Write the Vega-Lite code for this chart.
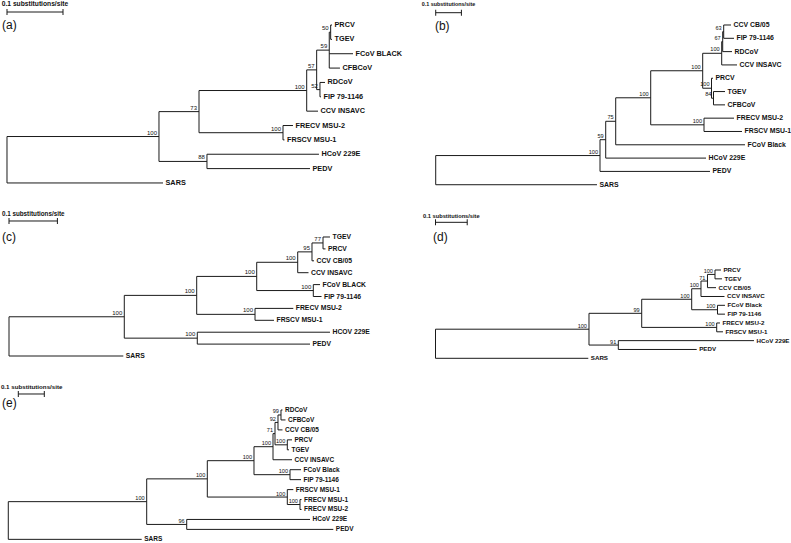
{
"$schema": "https://vega.github.io/schema/vega-lite/v6.json",
"padding": 0,
"background": "white",
"spacing": 0,
"bounds": "flush",
"columns": 2,
"config": {"view": {"stroke": null}, "concat": {"spacing": 0}},
"datasets": {
"a": [
{"name":"PRCV","x":0.5804,"px":0.578,"y":0},
{"name":"TGEV","x":0.5804,"px":0.578,"y":1},
{"name":"FCoV BLACK","x":0.6179,"px":0.5755,"y":2},
{"name":"CFBCoV","x":0.5946,"px":0.5755,"y":3},
{"name":"RDCoV","x":0.5679,"px":0.5589,"y":4},
{"name":"FIP 79-1146","x":0.5607,"px":0.5589,"y":5},
{"name":"CCV INSAVC","x":0.5554,"px":0.5352,"y":6},
{"name":"FRECV MSU-2","x":0.5107,"px":0.4929,"y":7},
{"name":"FRSCV MSU-1","x":0.4955,"px":0.4929,"y":8},
{"name":"HCoV 229E","x":0.5571,"px":0.3571,"y":9},
{"name":"PEDV","x":0.5411,"px":0.3571,"y":10},
{"name":"SARS","x":0.2786,"px":0,"y":11},
{"x":0.578,"px":0.5755,"y":0.5,"lo":0,"hi":1,"boot":"50"},
{"x":0.5755,"px":0.553,"y":1.75,"lo":0.5,"hi":3,"boot":"59"},
{"x":0.5589,"px":0.553,"y":4.5,"lo":4,"hi":5,"boot":"52"},
{"x":0.553,"px":0.5352,"y":3.125,"lo":1.75,"hi":4.5,"boot":"57"},
{"x":0.5352,"px":0.3429,"y":4.5625,"lo":3.125,"hi":6,"boot":"100"},
{"x":0.4929,"px":0.3429,"y":7.5,"lo":7,"hi":8,"boot":"100"},
{"x":0.3429,"px":0.2714,"y":6.0313,"lo":4.5625,"hi":7.5,"boot":"73"},
{"x":0.3571,"px":0.2714,"y":9.5,"lo":9,"hi":10,"boot":"88"},
{"x":0.2714,"px":0,"y":7.7656,"lo":6.0313,"hi":9.5,"boot":"100"},
{"x":0,"y":9.3828,"lo":7.7656,"hi":11}
],
"a_bar": [{"x0":0,"x1":0.1,"xm":0.05,"y":-0.905,"yc":-1.43,"cap":"0.1 substitutions/site","lx":-0.0089,"ly":0,"tag":"(a)"}],
"b": [
{"name":"CCV CB/05","x":1.149,"px":1.1206,"y":0},
{"name":"FIP 79-1146","x":1.1607,"px":1.1206,"y":1},
{"name":"RDCoV","x":1.1529,"px":1.1167,"y":2},
{"name":"CCV INSAVC","x":1.1724,"px":1.1128,"y":3},
{"name":"PRCV","x":1.079,"px":1.0732,"y":4},
{"name":"TGEV","x":1.1257,"px":1.0809,"y":5},
{"name":"CFBCoV","x":1.1257,"px":1.0809,"y":6},
{"name":"FRECV MSU-2","x":1.1607,"px":1.044,"y":7},
{"name":"FRSCV MSU-1","x":1.1918,"px":1.044,"y":8},
{"name":"FCoV Black","x":1.2035,"px":0.7004,"y":9},
{"name":"HCoV 229E","x":1.0518,"px":0.6615,"y":10},
{"name":"PEDV","x":1.0673,"px":0.6393,"y":11},
{"name":"SARS","x":0.6276,"px":0,"y":12},
{"x":1.1206,"px":1.1167,"y":0.5,"lo":0,"hi":1,"boot":"63"},
{"x":1.1167,"px":1.1128,"y":1.25,"lo":0.5,"hi":2,"boot":"67"},
{"x":1.1128,"px":1.0389,"y":2.125,"lo":1.25,"hi":3,"boot":"100"},
{"x":1.0809,"px":1.0732,"y":5.5,"lo":5,"hi":6,"boot":"84"},
{"x":1.0732,"px":1.0389,"y":4.75,"lo":4,"hi":5.5,"boot":"100"},
{"x":1.0389,"px":0.8366,"y":3.4375,"lo":2.125,"hi":4.75,"boot":"100"},
{"x":1.044,"px":0.8366,"y":7.5,"lo":7,"hi":8,"boot":"100"},
{"x":0.8366,"px":0.7004,"y":5.4688,"lo":3.4375,"hi":7.5,"boot":"100"},
{"x":0.7004,"px":0.6615,"y":7.2344,"lo":5.4688,"hi":9,"boot":"75"},
{"x":0.6615,"px":0.6393,"y":8.6172,"lo":7.2344,"hi":10,"boot":"59"},
{"x":0.6393,"px":0,"y":9.8086,"lo":8.6172,"hi":11,"boot":"100"},
{"x":0,"y":10.9043,"lo":9.8086,"hi":12}
],
"b_bar": [{"x0":0,"x1":0.1,"xm":0.05,"y":-0.924,"yc":-1.578,"cap":"0.1 substitutions/site","lx":-0.003,"ly":0.05,"tag":"(b)"}],
"c": [
{"name":"TGEV","x":0.6632,"px":0.6488,"y":0},
{"name":"PRCV","x":0.6539,"px":0.6488,"y":1},
{"name":"CCV CB/05","x":0.6302,"px":0.626,"y":2},
{"name":"CCV INSAVC","x":0.6188,"px":0.5965,"y":3},
{"name":"FCoV BLACK","x":0.6426,"px":0.6287,"y":4},
{"name":"FIP 79-1146","x":0.6457,"px":0.6287,"y":5},
{"name":"FRECV MSU-2","x":0.5874,"px":0.5083,"y":6},
{"name":"FRSCV MSU-1","x":0.5475,"px":0.5083,"y":7},
{"name":"HCOV 229E","x":0.6632,"px":0.389,"y":8},
{"name":"PEDV","x":0.6219,"px":0.389,"y":9},
{"name":"SARS","x":0.2362,"px":0,"y":10},
{"x":0.6488,"px":0.626,"y":0.5,"lo":0,"hi":1,"boot":"77"},
{"x":0.626,"px":0.5965,"y":1.25,"lo":0.5,"hi":2,"boot":"95"},
{"x":0.5965,"px":0.5118,"y":2.125,"lo":1.25,"hi":3,"boot":"100"},
{"x":0.6287,"px":0.5118,"y":4.5,"lo":4,"hi":5,"boot":"100"},
{"x":0.5118,"px":0.3878,"y":3.3125,"lo":2.125,"hi":4.5,"boot":"100"},
{"x":0.5083,"px":0.3878,"y":6.5,"lo":6,"hi":7,"boot":"100"},
{"x":0.3878,"px":0.2382,"y":4.9063,"lo":3.3125,"hi":6.5,"boot":"100"},
{"x":0.389,"px":0.2382,"y":8.5,"lo":8,"hi":9,"boot":"100"},
{"x":0.2382,"px":0,"y":6.7031,"lo":4.9063,"hi":8.5,"boot":"100"},
{"x":0,"y":8.3516,"lo":6.7031,"hi":10}
],
"c_bar": [{"x0":0,"x1":0.1,"xm":0.05,"y":-1.345,"yc":-1.933,"cap":"0.1 substitutions/site","lx":-0.0145,"ly":0,"tag":"(c)"}],
"d": [
{"name":"PRCV","x":0.9006,"px":0.8817,"y":0},
{"name":"TGEV","x":0.9038,"px":0.8817,"y":1},
{"name":"CCV CB/05","x":0.8849,"px":0.858,"y":2},
{"name":"CCV INSAVC","x":0.9117,"px":0.8375,"y":3},
{"name":"FCoV Black","x":0.9132,"px":0.8896,"y":4},
{"name":"FIP 79-1146","x":0.9132,"px":0.8896,"y":5},
{"name":"FRECV MSU-2","x":0.8975,"px":0.8871,"y":6},
{"name":"FRSCV MSU-1","x":0.9069,"px":0.8871,"y":7},
{"name":"HCoV 229E","x":1.0047,"px":0.5767,"y":8},
{"name":"PEDV","x":0.824,"px":0.5767,"y":9},
{"name":"SARS","x":0.482,"px":0,"y":10},
{"x":0.8817,"px":0.858,"y":0.5,"lo":0,"hi":1,"boot":"100"},
{"x":0.858,"px":0.8375,"y":1.25,"lo":0.5,"hi":2,"boot":"71"},
{"x":0.8375,"px":0.8082,"y":2.125,"lo":1.25,"hi":3,"boot":"100"},
{"x":0.8896,"px":0.8082,"y":4.5,"lo":4,"hi":5,"boot":"100"},
{"x":0.8082,"px":0.6505,"y":3.3125,"lo":2.125,"hi":4.5,"boot":"100"},
{"x":0.8871,"px":0.6505,"y":6.5,"lo":6,"hi":7,"boot":"100"},
{"x":0.6505,"px":0.4842,"y":4.9063,"lo":3.3125,"hi":6.5,"boot":"99"},
{"x":0.5767,"px":0.4842,"y":8.5,"lo":8,"hi":9,"boot":"91"},
{"x":0.4842,"px":0,"y":6.7031,"lo":4.9063,"hi":8.5,"boot":"100"},
{"x":0,"y":8.3516,"lo":6.7031,"hi":10}
],
"d_bar": [{"x0":0,"x1":0.1,"xm":0.05,"y":-5.4,"yc":-6.15,"cap":"0.1 substitutions/site","lx":-0.0079,"ly":-3.77,"tag":"(d)"}],
"e": [
{"name":"RDCoV","x":1.0546,"px":1.0488,"y":0},
{"name":"CFBCoV","x":1.0662,"px":1.0488,"y":1},
{"name":"CCV CB/05","x":1.0546,"px":1.0373,"y":2},
{"name":"PRCV","x":1.0912,"px":1.0731,"y":3},
{"name":"TGEV","x":1.0796,"px":1.0731,"y":4},
{"name":"CCV INSAVC","x":1.0912,"px":1.0181,"y":5},
{"name":"FCoV Black","x":1.1258,"px":1.0835,"y":6},
{"name":"FIP 79-1146","x":1.1258,"px":1.0835,"y":7},
{"name":"FRSCV MSU-1","x":1.0962,"px":1.0731,"y":8},
{"name":"FRECV MSU-1","x":1.1277,"px":1.1219,"y":9},
{"name":"FRECV MSU-2","x":1.1277,"px":1.1219,"y":10},
{"name":"HCoV 229E","x":1.1604,"px":0.6862,"y":11},
{"name":"PEDV","x":1.25,"px":0.6862,"y":12},
{"name":"SARS","x":0.5131,"px":0,"y":13},
{"x":1.0488,"px":1.0373,"y":0.5,"lo":0,"hi":1,"boot":"99"},
{"x":1.0373,"px":1.0258,"y":1.25,"lo":0.5,"hi":2,"boot":"92"},
{"x":1.0731,"px":1.0258,"y":3.5,"lo":3,"hi":4,"boot":"100"},
{"x":1.0258,"px":1.0181,"y":2.375,"lo":1.25,"hi":3.5,"boot":"71"},
{"x":1.0181,"px":0.945,"y":3.6875,"lo":2.375,"hi":5,"boot":"100"},
{"x":1.0835,"px":0.945,"y":6.5,"lo":6,"hi":7,"boot":"100"},
{"x":0.945,"px":0.7654,"y":5.0938,"lo":3.6875,"hi":6.5,"boot":"100"},
{"x":1.1219,"px":1.0731,"y":9.5,"lo":9,"hi":10,"boot":"100"},
{"x":1.0731,"px":0.7654,"y":8.75,"lo":8,"hi":9.5,"boot":"100"},
{"x":0.7654,"px":0.5323,"y":6.9219,"lo":5.0938,"hi":8.75,"boot":"100"},
{"x":0.6862,"px":0.5323,"y":11.5,"lo":11,"hi":12,"boot":"96"},
{"x":0.5323,"px":0,"y":9.2109,"lo":6.9219,"hi":11.5,"boot":"100"},
{"x":0,"y":11.1055,"lo":9.2109,"hi":13}
],
"e_bar": [{"x0":0.0385,"x1":0.1385,"xm":0.09,"y":-1.608,"yc":-2.342,"cap":"0.1 substitutions/site","lx":-0.0242,"ly":-0.673,"tag":"(e)"}]
},
"concat": [
{"width":395,"height":195,"layer":[
{"data":{"name":"a"},"transform":[{"filter":"isValid(datum.px)"}],"mark":{"type":"rule","color":"#1a1a1a","strokeWidth":1},"encoding":{"x":{"field":"px","type":"quantitative","scale":{"domain":[-0.0125,0.6929],"nice":false,"zero":false},"axis":null},"x2":{"field":"x"},"y":{"field":"y","type":"quantitative","scale":{"domain":[-1.741,11.838],"nice":false,"zero":false,"reverse":true},"axis":null}}},
{"data":{"name":"a"},"transform":[{"filter":"isValid(datum.lo)"}],"mark":{"type":"rule","color":"#1a1a1a","strokeWidth":1},"encoding":{"x":{"field":"x","type":"quantitative","scale":{"domain":[-0.0125,0.6929],"nice":false,"zero":false},"axis":null},"y":{"field":"lo","type":"quantitative","scale":{"domain":[-1.741,11.838],"nice":false,"zero":false,"reverse":true},"axis":null},"y2":{"field":"hi"}}},
{"data":{"name":"a"},"transform":[{"filter":"!isValid(datum.lo)"}],"mark":{"type":"text","align":"left","baseline":"middle","dx":2.5,"font":"Liberation Sans","fontWeight":"bold","fontSize":7.3,"color":"#111"},"encoding":{"x":{"field":"x","type":"quantitative","scale":{"domain":[-0.0125,0.6929],"nice":false,"zero":false},"axis":null},"y":{"field":"y","type":"quantitative","scale":{"domain":[-1.741,11.838],"nice":false,"zero":false,"reverse":true},"axis":null},"text":{"field":"name"}}},
{"data":{"name":"a"},"transform":[{"filter":"isValid(datum.boot)"}],"mark":{"type":"text","align":"right","baseline":"bottom","dx":-2,"dy":-1,"font":"Liberation Sans","fontSize":6,"color":"#111"},"encoding":{"x":{"field":"x","type":"quantitative","scale":{"domain":[-0.0125,0.6929],"nice":false,"zero":false},"axis":null},"y":{"field":"y","type":"quantitative","scale":{"domain":[-1.741,11.838],"nice":false,"zero":false,"reverse":true},"axis":null},"text":{"field":"boot"}}},
{"data":{"name":"a_bar"},"mark":{"type":"rule","color":"#1a1a1a","strokeWidth":1},"encoding":{"x":{"field":"x0","type":"quantitative","scale":{"domain":[-0.0125,0.6929],"nice":false,"zero":false},"axis":null},"x2":{"field":"x1"},"y":{"field":"y","type":"quantitative","scale":{"domain":[-1.741,11.838],"nice":false,"zero":false,"reverse":true},"axis":null}}},
{"data":{"name":"a_bar"},"mark":{"type":"tick","orient":"vertical","size":6,"thickness":1,"color":"#1a1a1a","opacity":1},"encoding":{"x":{"field":"x0","type":"quantitative","scale":{"domain":[-0.0125,0.6929],"nice":false,"zero":false},"axis":null},"y":{"field":"y","type":"quantitative","scale":{"domain":[-1.741,11.838],"nice":false,"zero":false,"reverse":true},"axis":null}}},
{"data":{"name":"a_bar"},"mark":{"type":"tick","orient":"vertical","size":6,"thickness":1,"color":"#1a1a1a","opacity":1},"encoding":{"x":{"field":"x1","type":"quantitative","scale":{"domain":[-0.0125,0.6929],"nice":false,"zero":false},"axis":null},"y":{"field":"y","type":"quantitative","scale":{"domain":[-1.741,11.838],"nice":false,"zero":false,"reverse":true},"axis":null}}},
{"data":{"name":"a_bar"},"mark":{"type":"text","align":"center","baseline":"middle","font":"Liberation Sans","fontWeight":"bold","fontSize":6.7,"color":"#111"},"encoding":{"x":{"field":"xm","type":"quantitative","scale":{"domain":[-0.0125,0.6929],"nice":false,"zero":false},"axis":null},"y":{"field":"yc","type":"quantitative","scale":{"domain":[-1.741,11.838],"nice":false,"zero":false,"reverse":true},"axis":null},"text":{"field":"cap"}}},
{"data":{"name":"a_bar"},"mark":{"type":"text","align":"left","baseline":"middle","font":"Liberation Sans","fontSize":12,"color":"#111"},"encoding":{"x":{"field":"lx","type":"quantitative","scale":{"domain":[-0.0125,0.6929],"nice":false,"zero":false},"axis":null},"y":{"field":"ly","type":"quantitative","scale":{"domain":[-1.741,11.838],"nice":false,"zero":false,"reverse":true},"axis":null},"text":{"field":"tag"}}}
]},
{"width":396,"height":195,"layer":[
{"data":{"name":"b"},"transform":[{"filter":"isValid(datum.px)"}],"mark":{"type":"rule","color":"#1a1a1a","strokeWidth":1},"encoding":{"x":{"field":"px","type":"quantitative","scale":{"domain":[-0.1584,1.3825],"nice":false,"zero":false},"axis":null},"x2":{"field":"x"},"y":{"field":"y","type":"quantitative","scale":{"domain":[-1.878,12.772],"nice":false,"zero":false,"reverse":true},"axis":null}}},
{"data":{"name":"b"},"transform":[{"filter":"isValid(datum.lo)"}],"mark":{"type":"rule","color":"#1a1a1a","strokeWidth":1},"encoding":{"x":{"field":"x","type":"quantitative","scale":{"domain":[-0.1584,1.3825],"nice":false,"zero":false},"axis":null},"y":{"field":"lo","type":"quantitative","scale":{"domain":[-1.878,12.772],"nice":false,"zero":false,"reverse":true},"axis":null},"y2":{"field":"hi"}}},
{"data":{"name":"b"},"transform":[{"filter":"!isValid(datum.lo)"}],"mark":{"type":"text","align":"left","baseline":"middle","dx":2.5,"font":"Liberation Sans","fontWeight":"bold","fontSize":6.9,"color":"#111"},"encoding":{"x":{"field":"x","type":"quantitative","scale":{"domain":[-0.1584,1.3825],"nice":false,"zero":false},"axis":null},"y":{"field":"y","type":"quantitative","scale":{"domain":[-1.878,12.772],"nice":false,"zero":false,"reverse":true},"axis":null},"text":{"field":"name"}}},
{"data":{"name":"b"},"transform":[{"filter":"isValid(datum.boot)"}],"mark":{"type":"text","align":"right","baseline":"bottom","dx":-2,"dy":-1,"font":"Liberation Sans","fontSize":5.6,"color":"#111"},"encoding":{"x":{"field":"x","type":"quantitative","scale":{"domain":[-0.1584,1.3825],"nice":false,"zero":false},"axis":null},"y":{"field":"y","type":"quantitative","scale":{"domain":[-1.878,12.772],"nice":false,"zero":false,"reverse":true},"axis":null},"text":{"field":"boot"}}},
{"data":{"name":"b_bar"},"mark":{"type":"rule","color":"#1a1a1a","strokeWidth":1},"encoding":{"x":{"field":"x0","type":"quantitative","scale":{"domain":[-0.1584,1.3825],"nice":false,"zero":false},"axis":null},"x2":{"field":"x1"},"y":{"field":"y","type":"quantitative","scale":{"domain":[-1.878,12.772],"nice":false,"zero":false,"reverse":true},"axis":null}}},
{"data":{"name":"b_bar"},"mark":{"type":"tick","orient":"vertical","size":6,"thickness":1,"color":"#1a1a1a","opacity":1},"encoding":{"x":{"field":"x0","type":"quantitative","scale":{"domain":[-0.1584,1.3825],"nice":false,"zero":false},"axis":null},"y":{"field":"y","type":"quantitative","scale":{"domain":[-1.878,12.772],"nice":false,"zero":false,"reverse":true},"axis":null}}},
{"data":{"name":"b_bar"},"mark":{"type":"tick","orient":"vertical","size":6,"thickness":1,"color":"#1a1a1a","opacity":1},"encoding":{"x":{"field":"x1","type":"quantitative","scale":{"domain":[-0.1584,1.3825],"nice":false,"zero":false},"axis":null},"y":{"field":"y","type":"quantitative","scale":{"domain":[-1.878,12.772],"nice":false,"zero":false,"reverse":true},"axis":null}}},
{"data":{"name":"b_bar"},"mark":{"type":"text","align":"center","baseline":"middle","font":"Liberation Sans","fontWeight":"bold","fontSize":5.4,"color":"#111"},"encoding":{"x":{"field":"xm","type":"quantitative","scale":{"domain":[-0.1584,1.3825],"nice":false,"zero":false},"axis":null},"y":{"field":"yc","type":"quantitative","scale":{"domain":[-1.878,12.772],"nice":false,"zero":false,"reverse":true},"axis":null},"text":{"field":"cap"}}},
{"data":{"name":"b_bar"},"mark":{"type":"text","align":"left","baseline":"middle","font":"Liberation Sans","fontSize":12,"color":"#111"},"encoding":{"x":{"field":"lx","type":"quantitative","scale":{"domain":[-0.1584,1.3825],"nice":false,"zero":false},"axis":null},"y":{"field":"ly","type":"quantitative","scale":{"domain":[-1.878,12.772],"nice":false,"zero":false,"reverse":true},"axis":null},"text":{"field":"tag"}}}
]},
{"width":395,"height":175,"layer":[
{"data":{"name":"c"},"transform":[{"filter":"isValid(datum.px)"}],"mark":{"type":"rule","color":"#1a1a1a","strokeWidth":1},"encoding":{"x":{"field":"px","type":"quantitative","scale":{"domain":[-0.0186,0.7975],"nice":false,"zero":false},"axis":null},"x2":{"field":"x"},"y":{"field":"y","type":"quantitative","scale":{"domain":[-3.529,11.176],"nice":false,"zero":false,"reverse":true},"axis":null}}},
{"data":{"name":"c"},"transform":[{"filter":"isValid(datum.lo)"}],"mark":{"type":"rule","color":"#1a1a1a","strokeWidth":1},"encoding":{"x":{"field":"x","type":"quantitative","scale":{"domain":[-0.0186,0.7975],"nice":false,"zero":false},"axis":null},"y":{"field":"lo","type":"quantitative","scale":{"domain":[-3.529,11.176],"nice":false,"zero":false,"reverse":true},"axis":null},"y2":{"field":"hi"}}},
{"data":{"name":"c"},"transform":[{"filter":"!isValid(datum.lo)"}],"mark":{"type":"text","align":"left","baseline":"middle","dx":2.5,"font":"Liberation Sans","fontWeight":"bold","fontSize":6.8,"color":"#111"},"encoding":{"x":{"field":"x","type":"quantitative","scale":{"domain":[-0.0186,0.7975],"nice":false,"zero":false},"axis":null},"y":{"field":"y","type":"quantitative","scale":{"domain":[-3.529,11.176],"nice":false,"zero":false,"reverse":true},"axis":null},"text":{"field":"name"}}},
{"data":{"name":"c"},"transform":[{"filter":"isValid(datum.boot)"}],"mark":{"type":"text","align":"right","baseline":"bottom","dx":-2,"dy":-1,"font":"Liberation Sans","fontSize":6,"color":"#111"},"encoding":{"x":{"field":"x","type":"quantitative","scale":{"domain":[-0.0186,0.7975],"nice":false,"zero":false},"axis":null},"y":{"field":"y","type":"quantitative","scale":{"domain":[-3.529,11.176],"nice":false,"zero":false,"reverse":true},"axis":null},"text":{"field":"boot"}}},
{"data":{"name":"c_bar"},"mark":{"type":"rule","color":"#1a1a1a","strokeWidth":1},"encoding":{"x":{"field":"x0","type":"quantitative","scale":{"domain":[-0.0186,0.7975],"nice":false,"zero":false},"axis":null},"x2":{"field":"x1"},"y":{"field":"y","type":"quantitative","scale":{"domain":[-3.529,11.176],"nice":false,"zero":false,"reverse":true},"axis":null}}},
{"data":{"name":"c_bar"},"mark":{"type":"tick","orient":"vertical","size":6,"thickness":1,"color":"#1a1a1a","opacity":1},"encoding":{"x":{"field":"x0","type":"quantitative","scale":{"domain":[-0.0186,0.7975],"nice":false,"zero":false},"axis":null},"y":{"field":"y","type":"quantitative","scale":{"domain":[-3.529,11.176],"nice":false,"zero":false,"reverse":true},"axis":null}}},
{"data":{"name":"c_bar"},"mark":{"type":"tick","orient":"vertical","size":6,"thickness":1,"color":"#1a1a1a","opacity":1},"encoding":{"x":{"field":"x1","type":"quantitative","scale":{"domain":[-0.0186,0.7975],"nice":false,"zero":false},"axis":null},"y":{"field":"y","type":"quantitative","scale":{"domain":[-3.529,11.176],"nice":false,"zero":false,"reverse":true},"axis":null}}},
{"data":{"name":"c_bar"},"mark":{"type":"text","align":"center","baseline":"middle","font":"Liberation Sans","fontWeight":"bold","fontSize":6.3,"color":"#111"},"encoding":{"x":{"field":"xm","type":"quantitative","scale":{"domain":[-0.0186,0.7975],"nice":false,"zero":false},"axis":null},"y":{"field":"yc","type":"quantitative","scale":{"domain":[-3.529,11.176],"nice":false,"zero":false,"reverse":true},"axis":null},"text":{"field":"cap"}}},
{"data":{"name":"c_bar"},"mark":{"type":"text","align":"left","baseline":"middle","font":"Liberation Sans","fontSize":12,"color":"#111"},"encoding":{"x":{"field":"lx","type":"quantitative","scale":{"domain":[-0.0186,0.7975],"nice":false,"zero":false},"axis":null},"y":{"field":"ly","type":"quantitative","scale":{"domain":[-3.529,11.176],"nice":false,"zero":false,"reverse":true},"axis":null},"text":{"field":"tag"}}}
]},
{"width":396,"height":175,"layer":[
{"data":{"name":"d"},"transform":[{"filter":"isValid(datum.px)"}],"mark":{"type":"rule","color":"#1a1a1a","strokeWidth":1},"encoding":{"x":{"field":"px","type":"quantitative","scale":{"domain":[-0.1278,1.1215],"nice":false,"zero":false},"axis":null},"x2":{"field":"x"},"y":{"field":"y","type":"quantitative","scale":{"domain":[-8.494,11.325],"nice":false,"zero":false,"reverse":true},"axis":null}}},
{"data":{"name":"d"},"transform":[{"filter":"isValid(datum.lo)"}],"mark":{"type":"rule","color":"#1a1a1a","strokeWidth":1},"encoding":{"x":{"field":"x","type":"quantitative","scale":{"domain":[-0.1278,1.1215],"nice":false,"zero":false},"axis":null},"y":{"field":"lo","type":"quantitative","scale":{"domain":[-8.494,11.325],"nice":false,"zero":false,"reverse":true},"axis":null},"y2":{"field":"hi"}}},
{"data":{"name":"d"},"transform":[{"filter":"!isValid(datum.lo)"}],"mark":{"type":"text","align":"left","baseline":"middle","dx":2.5,"font":"Liberation Sans","fontWeight":"bold","fontSize":6.2,"color":"#111"},"encoding":{"x":{"field":"x","type":"quantitative","scale":{"domain":[-0.1278,1.1215],"nice":false,"zero":false},"axis":null},"y":{"field":"y","type":"quantitative","scale":{"domain":[-8.494,11.325],"nice":false,"zero":false,"reverse":true},"axis":null},"text":{"field":"name"}}},
{"data":{"name":"d"},"transform":[{"filter":"isValid(datum.boot)"}],"mark":{"type":"text","align":"right","baseline":"bottom","dx":-2,"dy":-0.5,"font":"Liberation Sans","fontSize":5.6,"color":"#111"},"encoding":{"x":{"field":"x","type":"quantitative","scale":{"domain":[-0.1278,1.1215],"nice":false,"zero":false},"axis":null},"y":{"field":"y","type":"quantitative","scale":{"domain":[-8.494,11.325],"nice":false,"zero":false,"reverse":true},"axis":null},"text":{"field":"boot"}}},
{"data":{"name":"d_bar"},"mark":{"type":"rule","color":"#1a1a1a","strokeWidth":1},"encoding":{"x":{"field":"x0","type":"quantitative","scale":{"domain":[-0.1278,1.1215],"nice":false,"zero":false},"axis":null},"x2":{"field":"x1"},"y":{"field":"y","type":"quantitative","scale":{"domain":[-8.494,11.325],"nice":false,"zero":false,"reverse":true},"axis":null}}},
{"data":{"name":"d_bar"},"mark":{"type":"tick","orient":"vertical","size":6,"thickness":1,"color":"#1a1a1a","opacity":1},"encoding":{"x":{"field":"x0","type":"quantitative","scale":{"domain":[-0.1278,1.1215],"nice":false,"zero":false},"axis":null},"y":{"field":"y","type":"quantitative","scale":{"domain":[-8.494,11.325],"nice":false,"zero":false,"reverse":true},"axis":null}}},
{"data":{"name":"d_bar"},"mark":{"type":"tick","orient":"vertical","size":6,"thickness":1,"color":"#1a1a1a","opacity":1},"encoding":{"x":{"field":"x1","type":"quantitative","scale":{"domain":[-0.1278,1.1215],"nice":false,"zero":false},"axis":null},"y":{"field":"y","type":"quantitative","scale":{"domain":[-8.494,11.325],"nice":false,"zero":false,"reverse":true},"axis":null}}},
{"data":{"name":"d_bar"},"mark":{"type":"text","align":"center","baseline":"middle","font":"Liberation Sans","fontWeight":"bold","fontSize":5.7,"color":"#111"},"encoding":{"x":{"field":"xm","type":"quantitative","scale":{"domain":[-0.1278,1.1215],"nice":false,"zero":false},"axis":null},"y":{"field":"yc","type":"quantitative","scale":{"domain":[-8.494,11.325],"nice":false,"zero":false,"reverse":true},"axis":null},"text":{"field":"cap"}}},
{"data":{"name":"d_bar"},"mark":{"type":"text","align":"left","baseline":"middle","font":"Liberation Sans","fontSize":12,"color":"#111"},"encoding":{"x":{"field":"lx","type":"quantitative","scale":{"domain":[-0.1278,1.1215],"nice":false,"zero":false},"axis":null},"y":{"field":"ly","type":"quantitative","scale":{"domain":[-8.494,11.325],"nice":false,"zero":false,"reverse":true},"axis":null},"text":{"field":"tag"}}}
]},
{"width":395,"height":173,"layer":[
{"data":{"name":"e"},"transform":[{"filter":"isValid(datum.px)"}],"mark":{"type":"rule","color":"#1a1a1a","strokeWidth":1},"encoding":{"x":{"field":"px","type":"quantitative","scale":{"domain":[-0.0319,1.4873],"nice":false,"zero":false},"axis":null},"x2":{"field":"x"},"y":{"field":"y","type":"quantitative","scale":{"domain":[-4.02,13.367],"nice":false,"zero":false,"reverse":true},"axis":null}}},
{"data":{"name":"e"},"transform":[{"filter":"isValid(datum.lo)"}],"mark":{"type":"rule","color":"#1a1a1a","strokeWidth":1},"encoding":{"x":{"field":"x","type":"quantitative","scale":{"domain":[-0.0319,1.4873],"nice":false,"zero":false},"axis":null},"y":{"field":"lo","type":"quantitative","scale":{"domain":[-4.02,13.367],"nice":false,"zero":false,"reverse":true},"axis":null},"y2":{"field":"hi"}}},
{"data":{"name":"e"},"transform":[{"filter":"!isValid(datum.lo)"}],"mark":{"type":"text","align":"left","baseline":"middle","dx":2.5,"font":"Liberation Sans","fontWeight":"bold","fontSize":6.5,"color":"#111"},"encoding":{"x":{"field":"x","type":"quantitative","scale":{"domain":[-0.0319,1.4873],"nice":false,"zero":false},"axis":null},"y":{"field":"y","type":"quantitative","scale":{"domain":[-4.02,13.367],"nice":false,"zero":false,"reverse":true},"axis":null},"text":{"field":"name"}}},
{"data":{"name":"e"},"transform":[{"filter":"isValid(datum.boot)"}],"mark":{"type":"text","align":"right","baseline":"bottom","dx":-2,"dy":-0.5,"font":"Liberation Sans","fontSize":5.6,"color":"#111"},"encoding":{"x":{"field":"x","type":"quantitative","scale":{"domain":[-0.0319,1.4873],"nice":false,"zero":false},"axis":null},"y":{"field":"y","type":"quantitative","scale":{"domain":[-4.02,13.367],"nice":false,"zero":false,"reverse":true},"axis":null},"text":{"field":"boot"}}},
{"data":{"name":"e_bar"},"mark":{"type":"rule","color":"#1a1a1a","strokeWidth":1},"encoding":{"x":{"field":"x0","type":"quantitative","scale":{"domain":[-0.0319,1.4873],"nice":false,"zero":false},"axis":null},"x2":{"field":"x1"},"y":{"field":"y","type":"quantitative","scale":{"domain":[-4.02,13.367],"nice":false,"zero":false,"reverse":true},"axis":null}}},
{"data":{"name":"e_bar"},"mark":{"type":"tick","orient":"vertical","size":6,"thickness":1,"color":"#1a1a1a","opacity":1},"encoding":{"x":{"field":"x0","type":"quantitative","scale":{"domain":[-0.0319,1.4873],"nice":false,"zero":false},"axis":null},"y":{"field":"y","type":"quantitative","scale":{"domain":[-4.02,13.367],"nice":false,"zero":false,"reverse":true},"axis":null}}},
{"data":{"name":"e_bar"},"mark":{"type":"tick","orient":"vertical","size":6,"thickness":1,"color":"#1a1a1a","opacity":1},"encoding":{"x":{"field":"x1","type":"quantitative","scale":{"domain":[-0.0319,1.4873],"nice":false,"zero":false},"axis":null},"y":{"field":"y","type":"quantitative","scale":{"domain":[-4.02,13.367],"nice":false,"zero":false,"reverse":true},"axis":null}}},
{"data":{"name":"e_bar"},"mark":{"type":"text","align":"center","baseline":"middle","font":"Liberation Sans","fontWeight":"bold","fontSize":6.2,"color":"#111"},"encoding":{"x":{"field":"xm","type":"quantitative","scale":{"domain":[-0.0319,1.4873],"nice":false,"zero":false},"axis":null},"y":{"field":"yc","type":"quantitative","scale":{"domain":[-4.02,13.367],"nice":false,"zero":false,"reverse":true},"axis":null},"text":{"field":"cap"}}},
{"data":{"name":"e_bar"},"mark":{"type":"text","align":"left","baseline":"middle","font":"Liberation Sans","fontSize":12,"color":"#111"},"encoding":{"x":{"field":"lx","type":"quantitative","scale":{"domain":[-0.0319,1.4873],"nice":false,"zero":false},"axis":null},"y":{"field":"ly","type":"quantitative","scale":{"domain":[-4.02,13.367],"nice":false,"zero":false,"reverse":true},"axis":null},"text":{"field":"tag"}}}
]}
]
}
